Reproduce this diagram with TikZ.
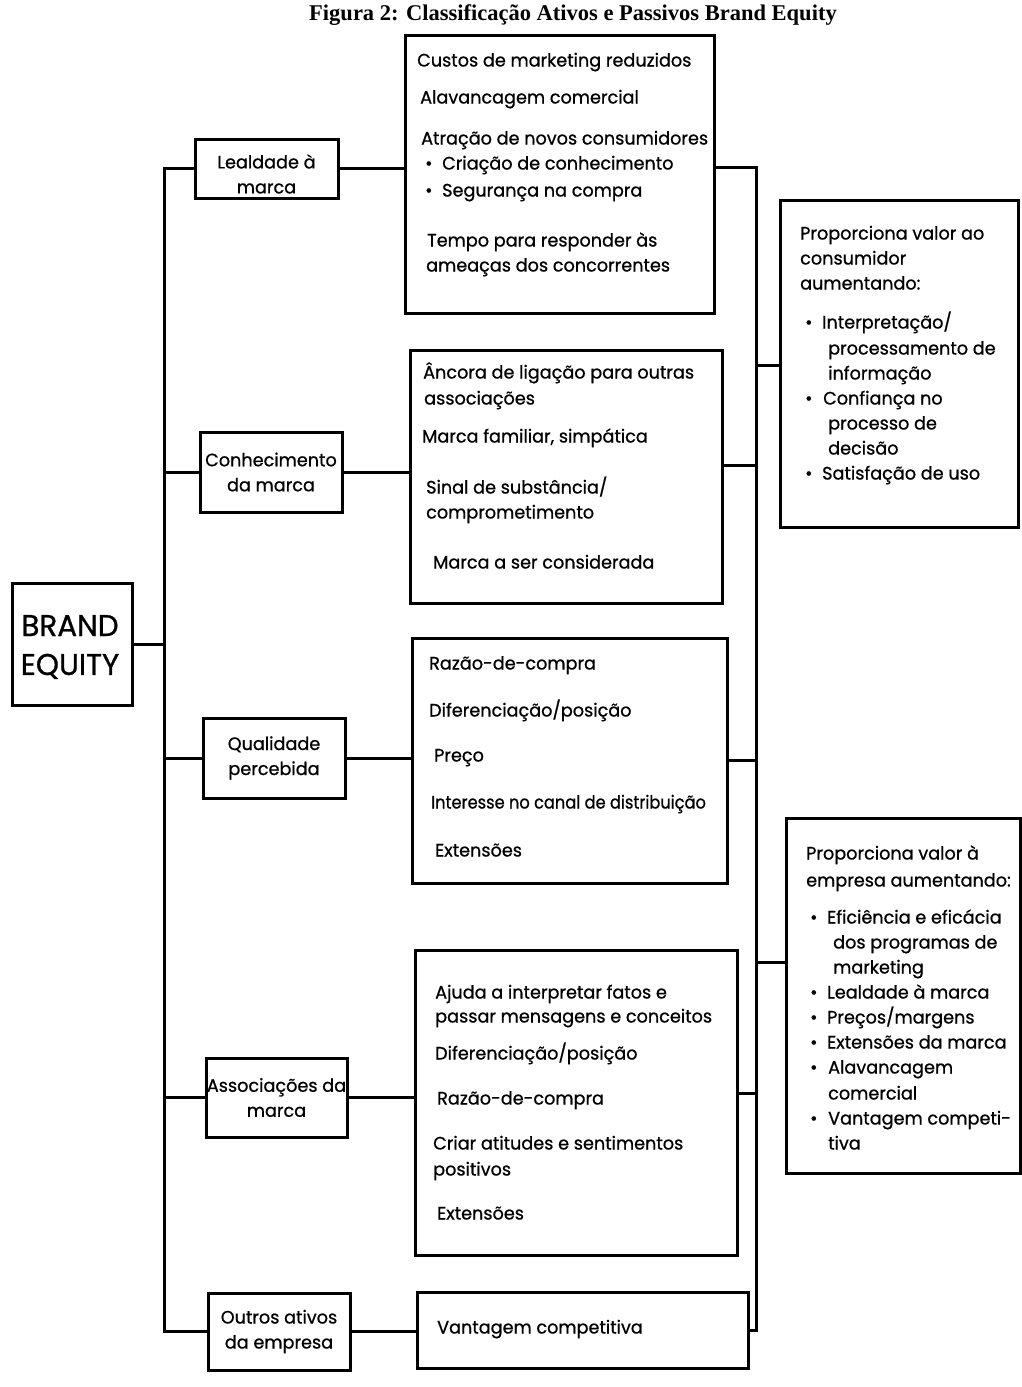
\documentclass[tikz,border=0pt]{standalone}
\usepackage{fontspec}
\setmainfont{Poppins}[FakeBold=0.8,FakeStretch=0.98]
\newfontfamily\titlefont{Liberation Serif}
\newcommand\bul[1]{\makebox[#1][l]{•}}
\begin{document}
\begin{tikzpicture}[x=1pt,y=-1pt,
  box/.style={draw,line width=3pt,inner sep=0pt,rectangle},
  lbox/.style={box,align=center,font=\fontsize{18}{25}\selectfont},
  conn/.style={line width=3pt,line cap=rect},
  txt/.style={anchor=west,inner sep=0pt,text height=17pt,text depth=4pt,font=\fontsize{18}{25}\selectfont}]
\useasboundingbox (0,0) rectangle (1022,1387);

\node[anchor=base,inner sep=0pt,font=\titlefont\bfseries\fontsize{22.5}{26}\selectfont] (title) at (573,20) {Figura 2: Classificação Ativos e Passivos Brand Equity};

% left column
\node[box,minimum width=120pt,minimum height=122pt] (BE) at (72,644) {};
\node[inner sep=0pt,align=center,font=\fontsize{30}{39}\selectfont] (BEt) at (70,647) {BRAND\\EQUITY};
\node[lbox,minimum width=143pt,minimum height=59pt] (L1) at (266.5,168.5) {\rule{0pt}{25pt}Lealdade à\\marca};
\node[lbox,minimum width=142pt,minimum height=80pt] (L2) at (271,472) {Conhecimento\\da marca};
\node[lbox,minimum width=142pt,minimum height=80pt] (L3) at (274,758) {Qualidade\\percebida};
\node[lbox,minimum width=141pt,minimum height=79pt] (L4) at (276.5,1097.5) {Associações da\\marca};
\node[lbox,minimum width=142pt,minimum height=77pt] (L5) at (279,1331.5) {Outros ativos\\da empresa};

% middle boxes
\node[box,minimum width=309pt,minimum height=278pt] (A1) at (559.5,174) {};
\node[box,minimum width=312pt,minimum height=253pt] (A2) at (566,476.5) {};
\node[box,minimum width=315pt,minimum height=245pt] (A3) at (569.5,760.5) {};
\node[box,minimum width=322pt,minimum height=305pt] (A4) at (576,1102.5) {};
\node[box,minimum width=331pt,minimum height=76pt] (A5) at (582.5,1330) {};

% right boxes
\node[box,minimum width=238pt,minimum height=327pt] (R1) at (899,363.5) {};
\node[box,minimum width=234pt,minimum height=355pt] (R2) at (903,995.5) {};

% trunk coordinates
\coordinate (lt) at (164,0);
\coordinate (c1) at (756,167);
\coordinate (c2) at (756,465);
\coordinate (c3) at (756,760);
\coordinate (c4) at (756,1093);
\coordinate (c5) at (756,1330);
\coordinate (cr1) at (756,365);
\coordinate (cr2) at (756,962);

% left trunk and branches
\draw[conn] (L1.west) -- (L1.west -| lt) -- (L5.west -| lt) -- (L5.west);
\draw[conn] (BE.east) -- (BE.east -| lt);
\draw[conn] (L2.west -| lt) -- (L2.west);
\draw[conn] (L3.west -| lt) -- (L3.west);
\draw[conn] (L4.west -| lt) -- (L4.west);

% left to middle
\draw[conn] (L1.east) -- (L1.east -| A1.west);
\draw[conn] (L2.east) -- (L2.east -| A2.west);
\draw[conn] (L3.east) -- (L3.east -| A3.west);
\draw[conn] (L4.east) -- (L4.east -| A4.west);
\draw[conn] (L5.east) -- (L5.east -| A5.west);

% middle to right trunk
\draw[conn] (A1.east |- c1) -- (c1) -- (c5) -- (A5.east |- c5);
\draw[conn] (A2.east |- c2) -- (c2);
\draw[conn] (A3.east |- c3) -- (c3);
\draw[conn] (A4.east |- c4) -- (c4);
\draw[conn] (cr1) -- (R1.west |- cr1);
\draw[conn] (cr2) -- (R2.west |- cr2);

% A1 text
\node[txt] (a11) at (417,60) {Custos de marketing reduzidos};
\node[txt] (a12) at (420,97) {Alavancagem comercial};
\node[txt] (a13) at (421,138) {Atração de novos consumidores};
\node[txt] (a14) at (425,163) {\bul{17pt}Criação de conhecimento};
\node[txt] (a15) at (425,190) {\bul{17pt}Segurança na compra};
\node[txt] (a16) at (427,240) {Tempo para responder às};
\node[txt] (a17) at (426,265) {ameaças dos concorrentes};

% A2 text
\node[txt] (a21) at (423,372) {Âncora de ligação para outras};
\node[txt] (a22) at (424,398) {associações};
\node[txt] (a23) at (422,436) {Marca familiar, simpática};
\node[txt] (a24) at (426,487) {Sinal de substância/};
\node[txt] (a25) at (426,512) {comprometimento};
\node[txt] (a26) at (433,562) {Marca a ser considerada};

% A3 text
\node[txt] (a31) at (429,663) {Razão-de-compra};
\node[txt] (a32) at (429,710) {Diferenciação/posição};
\node[txt] (a33) at (434,755) {Preço};
\node[txt] (a34) at (431,802) {\scalebox{0.92}[1]{Interesse no canal de distribuição}};
\node[txt] (a35) at (435,850) {Extensões};

% A4 text
\node[txt] (a41) at (435,992) {Ajuda a interpretar fatos e};
\node[txt] (a42) at (435,1016) {passar mensagens e conceitos};
\node[txt] (a43) at (435,1053) {Diferenciação/posição};
\node[txt] (a44) at (437,1098) {Razão-de-compra};
\node[txt] (a45) at (433,1143) {Criar atitudes e sentimentos};
\node[txt] (a46) at (433,1169) {positivos};
\node[txt] (a47) at (437,1213) {Extensões};

% A5 text
\node[txt] (a51) at (437,1327) {Vantagem competitiva};

% R1 text
\node[txt] (r11) at (800,233) {Proporciona valor ao};
\node[txt] (r12) at (800,258) {consumidor};
\node[txt] (r13) at (800,283) {aumentando:};
\node[txt] (r14) at (805,322) {\bul{17pt}Interpretação/};
\node[txt] (r15) at (828,348) {processamento de};
\node[txt] (r16) at (828,373) {informação};
\node[txt] (r17) at (805,398) {\bul{18pt}Confiança no};
\node[txt] (r18) at (828,423) {processo de};
\node[txt] (r19) at (828,448) {decisão};
\node[txt] (r110) at (805,473) {\bul{17pt}Satisfação de uso};

% R2 text
\node[txt] (r21) at (806,853) {Proporciona valor à};
\node[txt] (r22) at (806,880) {empresa aumentando:};
\node[txt] (r23) at (810,917) {\bul{17pt}Eficiência e eficácia};
\node[txt] (r24) at (833,942) {dos programas de};
\node[txt] (r25) at (833,967) {marketing};
\node[txt] (r26) at (810,992) {\bul{17pt}Lealdade à marca};
\node[txt] (r27) at (810,1017) {\bul{17pt}Preços/margens};
\node[txt] (r28) at (810,1042) {\bul{17pt}Extensões da marca};
\node[txt] (r29) at (810,1067) {\bul{18pt}Alavancagem};
\node[txt] (r210) at (828,1093) {comercial};
\node[txt] (r211) at (810,1118) {\bul{18pt}Vantagem competi-};
\node[txt] (r212) at (828,1143) {tiva};
\end{tikzpicture}
\end{document}
